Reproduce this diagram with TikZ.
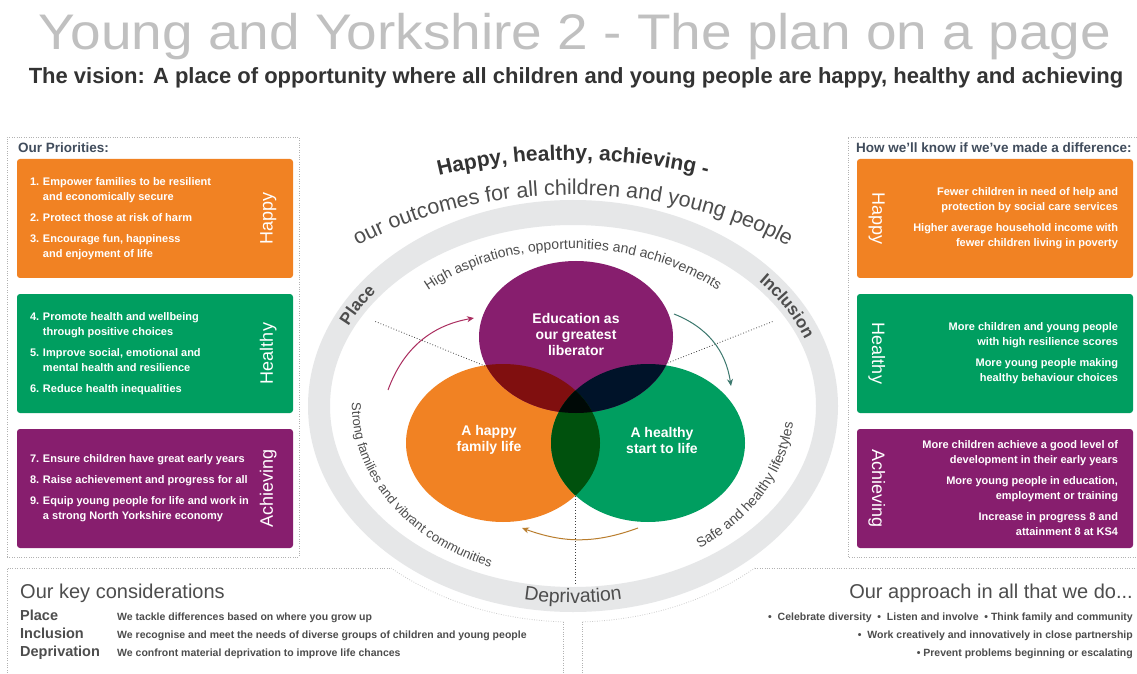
\documentclass[tikz,border=0pt]{standalone}
\usepackage{fontspec}
\setmainfont{Liberation Sans}
\newfontfamily\titlefont[FakeStretch=1.1]{Liberation Sans}
\usepackage{tikz}
\usetikzlibrary{arrows, arrows.meta, positioning, shapes, calc, decorations.text}

\definecolor{happyorange}{RGB}{241,130,35}
\definecolor{healthygreen}{RGB}{0,158,96}
\definecolor{achievepurple}{RGB}{135,30,110}
\definecolor{ringgray}{RGB}{230,231,232}
\definecolor{titlegray}{RGB}{192,192,192}
\definecolor{darktext}{RGB}{51,51,51}
\definecolor{slatetext}{RGB}{64,76,92}
\definecolor{midtext}{RGB}{77,77,77}
\definecolor{opmix}{RGB}{128,15,15}
\definecolor{pgmix}{RGB}{0,19,41}
\definecolor{ogmix}{RGB}{0,81,13}
\definecolor{allmix}{RGB}{0,9,6}
\definecolor{arrowleft}{RGB}{170,45,95}
\definecolor{arrowright}{RGB}{60,120,110}
\definecolor{arrowbottom}{RGB}{185,125,45}

\newcommand{\boxfont}{\fontsize{11}{15}\selectfont\bfseries}
\newcommand{\labelfont}{\fontsize{18}{18}\selectfont}
\newcommand{\headfont}{\fontsize{13.5}{16}\selectfont\bfseries}
\newcommand{\vennfont}{\fontsize{14}{16}\selectfont\bfseries}
\newcommand{\topfont}{\fontsize{21}{21}\selectfont\bfseries}
\newcommand{\arcfont}{\fontsize{21.5}{21.5}\selectfont}
\newcommand{\bandfont}{\fontsize{17}{17}\selectfont\bfseries}
\newcommand{\depfont}{\fontsize{19.5}{19.5}\selectfont}
\newcommand{\innerfont}{\fontsize{14}{14}\selectfont}
\newcommand{\strongfont}{\fontsize{13}{13}\selectfont}
\newcommand{\keyheadfont}{\fontsize{20}{20}\selectfont}
\newcommand{\keylabelfont}{\fontsize{14.5}{14.5}\selectfont\bfseries}
\newcommand{\keytextfont}{\fontsize{10.5}{10.5}\selectfont\bfseries}
\newcommand{\itm}[1]{\makebox[13pt][l]{#1}}

\tikzstyle{panel} = [gray!60, line width=0.8pt, dash pattern=on 0.8pt off 1.6pt]
\tikzstyle{ringline} = [gray!40, line width=0.8pt, dash pattern=on 0.8pt off 1.6pt]
\tikzstyle{pointer} = [black!75, line width=0.8pt, dash pattern=on 0.8pt off 2pt]
\tikzstyle{box} = [rectangle, rounded corners=3pt, minimum width=276pt, minimum height=119pt, inner sep=0pt]
\tikzstyle{boxtext} = [text=white, font=\boxfont, inner sep=0pt]
\tikzstyle{boxlabel} = [text=white, font=\labelfont, inner sep=0pt]
\tikzstyle{venntext} = [text=white, font=\vennfont, align=center, inner sep=0pt]
\tikzstyle{arrow} = [-{Stealth[length=7pt, width=6pt]}, line width=1pt]
\tikzstyle{keytext} = [text=midtext, font=\keytextfont, inner sep=0pt]

\begin{document}
\begin{tikzpicture}[x=1pt, y=1pt]
    \useasboundingbox (0,0) rectangle (1137,673);
    \fill[white] (0,0) rectangle (1137,673);

    % The heading
    \node[font=\titlefont\fontsize{50}{50}\selectfont, text=titlegray, anchor=base, inner sep=0pt] (title) at (575,623)
        {Young and Yorkshire 2 - The plan on a page};
    \node[font=\fontsize{22}{22}\selectfont\bfseries, text=darktext, anchor=base, inner sep=0pt] (vision) at (576,589)
        {The vision: A place of opportunity where all children and young people are happy, healthy and achieving};

    % The panels
    \draw[panel] (7,116) rectangle (299,536);
    \draw[panel] (1137,536) -- (848,536) -- (848,116) -- (1137,116);
    \draw[panel] (7,0) -- (7,105) -- (391.1,105);
    \draw[ringline] (391.1,105) arc [start angle=228.6, end angle=268, x radius=275pt, y radius=216pt];
    \draw[panel] (563.4,51.1) -- (563.4,0);
    \draw[panel] (582.6,0) -- (582.6,51.1);
    \draw[ringline] (582.6,51.1) arc [start angle=272, end angle=311.4, x radius=275pt, y radius=216pt];
    \draw[panel] (754.9,105) -- (1137,105);

    \node[font=\headfont, text=slatetext, anchor=base west, inner sep=0pt] (priorities) at (18,520) {Our Priorities:};
    \node[font=\headfont, text=slatetext, anchor=base west, inner sep=0pt] (difference) at (856,520) {How we'll know if we've made a difference:};

    % The priority boxes
    \node[box, fill=happyorange] (lhappy) at (155,454.5) {};
    \node[box, fill=healthygreen] (lhealthy) at (155,319.5) {};
    \node[box, fill=achievepurple] (lachieve) at (155,184.5) {};
    \node[boxlabel, rotate=90] (lhappylbl) at ([xshift=-25pt]lhappy.east) {Happy};
    \node[boxlabel, rotate=90] (lhealthylbl) at ([xshift=-25pt]lhealthy.east) {Healthy};
    \node[boxlabel, rotate=90] (lachievelbl) at ([xshift=-25pt]lachieve.east) {Achieving};
    \node[boxtext, anchor=west, align=left] (lhappytxt) at ([xshift=13pt]lhappy.west)
        {\itm{1.}Empower families to be resilient\\
         \hspace*{13pt}and economically secure\\[6pt]
         \itm{2.}Protect those at risk of harm\\[6pt]
         \itm{3.}Encourage fun, happiness\\
         \hspace*{13pt}and enjoyment of life};
    \node[boxtext, anchor=west, align=left] (lhealthytxt) at ([xshift=13pt]lhealthy.west)
        {\itm{4.}Promote health and wellbeing\\
         \hspace*{13pt}through positive choices\\[6pt]
         \itm{5.}Improve social, emotional and\\
         \hspace*{13pt}mental health and resilience\\[6pt]
         \itm{6.}Reduce health inequalities};
    \node[boxtext, anchor=west, align=left] (lachievetxt) at ([xshift=13pt]lachieve.west)
        {\itm{7.}Ensure children have great early years\\[6pt]
         \itm{8.}Raise achievement and progress for all\\[6pt]
         \itm{9.}Equip young people for life and work in\\
         \hspace*{13pt}a strong North Yorkshire economy};

    % The measure boxes
    \node[box, fill=happyorange] (rhappy) at (995,454.5) {};
    \node[box, fill=healthygreen] (rhealthy) at (995,319.5) {};
    \node[box, fill=achievepurple] (rachieve) at (995,184.5) {};
    \node[boxlabel, rotate=-90] (rhappylbl) at ([xshift=20pt]rhappy.west) {Happy};
    \node[boxlabel, rotate=-90] (rhealthylbl) at ([xshift=20pt]rhealthy.west) {Healthy};
    \node[boxlabel, rotate=-90] (rachievelbl) at ([xshift=20pt]rachieve.west) {Achieving};
    \node[boxtext, anchor=east, align=right] (rhappytxt) at ([xshift=-15pt]rhappy.east)
        {Fewer children in need of help and\\
         protection by social care services\\[6pt]
         Higher average household income with\\
         fewer children living in poverty};
    \node[boxtext, anchor=east, align=right] (rhealthytxt) at ([xshift=-15pt]rhealthy.east)
        {More children and young people\\
         with high resilience scores\\[6pt]
         More young people making\\
         healthy behaviour choices};
    \node[boxtext, anchor=east, align=right] (rachievetxt) at ([xshift=-15pt]rachieve.east)
        {More children achieve a good level of\\
         development in their early years\\[6pt]
         More young people in education,\\
         employment or training\\[6pt]
         Increase in progress 8 and\\
         attainment 8 at KS4};

    % The ring
    \coordinate (ctr) at (573,267);
    \fill[ringgray, even odd rule] (ctr) ellipse [x radius=265pt, y radius=206pt]
        (ctr) ellipse [x radius=243pt, y radius=181pt];
    \path[decorate, decoration={text along path, text align=center, text color=darktext,
        text={|\topfont|Happy, healthy, achieving -}}]
        ([shift={(130:380pt and 246pt)}]ctr) arc [start angle=130, end angle=50, x radius=380pt, y radius=246pt];
    \path[decorate, decoration={text along path, text align=center, text color=midtext,
        text={|\arcfont|our outcomes for all children and young people}}]
        ([shift={(150:330pt and 211pt)}]ctr) arc [start angle=150, end angle=30, x radius=330pt, y radius=211pt];
    \path[decorate, decoration={text along path, text align=center, text color=midtext,
        text={|\bandfont|Place}}]
        ([shift={(175:248pt and 188pt)}]ctr) arc [start angle=175, end angle=125, x radius=248pt, y radius=188pt];
    \path[decorate, decoration={text along path, text align=center, text color=midtext,
        text={|\bandfont|Inclusion}}]
        ([shift={(55:248pt and 188pt)}]ctr) arc [start angle=55, end angle=5, x radius=248pt, y radius=188pt];
    \path[decorate, decoration={text along path, text align=center, text color=midtext,
        text={|\depfont|Deprivation}}]
        ([shift={(245:259pt and 197pt)}]ctr) arc [start angle=245, end angle=295, x radius=259pt, y radius=197pt];
    \path[decorate, decoration={text along path, text align=center, text color=midtext,
        text={|\innerfont|High aspirations, opportunities and achievements}}]
        ([shift={(160:213pt and 157pt)}]ctr) arc [start angle=160, end angle=20, x radius=213pt, y radius=157pt];
    \path[decorate, decoration={text along path, text color=midtext,
        text={|\strongfont|Strong families and vibrant communities}}]
        ([shift={(179:221pt and 174pt)}]ctr) arc [start angle=179, end angle=275, x radius=221pt, y radius=174pt];
    \path[decorate, decoration={text along path, text color=midtext,
        text={|\innerfont|Safe and healthy lifestyles}}]
        ([shift={(-55:221pt and 174pt)}]ctr) arc [start angle=-55, end angle=10, x radius=221pt, y radius=174pt];

    % The circles
    \coordinate (ohap) at (503,230);
    \coordinate (ohlt) at (648,230);
    \coordinate (oedu) at (576,336);
    \fill[happyorange] (ohap) ellipse [x radius=97pt, y radius=79pt];
    \fill[healthygreen] (ohlt) ellipse [x radius=97pt, y radius=79pt];
    \fill[achievepurple] (oedu) ellipse [x radius=97pt, y radius=76pt];
    \begin{scope}
        \clip (oedu) ellipse [x radius=97pt, y radius=76pt];
        \fill[opmix] (ohap) ellipse [x radius=97pt, y radius=79pt];
        \fill[pgmix] (ohlt) ellipse [x radius=97pt, y radius=79pt];
    \end{scope}
    \begin{scope}
        \clip (ohap) ellipse [x radius=97pt, y radius=79pt];
        \fill[ogmix] (ohlt) ellipse [x radius=97pt, y radius=79pt];
        \clip (ohlt) ellipse [x radius=97pt, y radius=79pt];
        \fill[allmix] (oedu) ellipse [x radius=97pt, y radius=76pt];
    \end{scope}
    \node[venntext] (edu) at (576,339) {Education as\\our greatest\\liberator};
    \node[venntext] (happylife) at (489,233) {A happy\\family life};
    \node[venntext] (healthystart) at (662,233) {A healthy\\start to life};

    % The pointers
    \coordinate (placeend) at (374,352);
    \coordinate (placestart) at (485,307);
    \coordinate (inclend) at (774,352);
    \coordinate (inclstart) at (665,309);
    \coordinate (depstart) at (575,177);
    \coordinate (depend) at (575,88);
    \draw[pointer] (placestart) -- (placeend);
    \draw[pointer] (inclstart) -- (inclend);
    \draw[pointer] (depstart) -- (depend);

    % The cycle arrows
    \coordinate (aL1) at (388,283);
    \coordinate (aL2) at (474,355);
    \coordinate (aR1) at (674,359);
    \coordinate (aR2) at (731,287);
    \coordinate (aB1) at (638,145);
    \coordinate (aB2) at (522,145);
    \draw[arrow, arrowleft] (aL1) to [bend left=30] (aL2);
    \draw[arrow, arrowright] (aR1) to [bend left=30] (aR2);
    \draw[arrow, arrowbottom] (aB1) to [bend left=20] (aB2);

    % Key considerations
    \node[font=\keyheadfont, text=midtext, anchor=base west, inner sep=0pt] (keyhead) at (20,75) {Our key considerations};
    \node[font=\keylabelfont, text=midtext, anchor=base west, inner sep=0pt] (kplace) at (20,53) {Place};
    \node[font=\keylabelfont, text=midtext, anchor=base west, inner sep=0pt] (kincl) at (20,35) {Inclusion};
    \node[font=\keylabelfont, text=midtext, anchor=base west, inner sep=0pt] (kdep) at (20,17) {Deprivation};
    \node[keytext, anchor=base west] (kplacetxt) at (117,53) {We tackle differences based on where you grow up};
    \node[keytext, anchor=base west] (kincltxt) at (117,35) {We recognise and meet the needs of diverse groups of children and young people};
    \node[keytext, anchor=base west] (kdeptxt) at (117,17) {We confront material deprivation to improve life chances};

    % Approach
    \node[font=\keyheadfont, text=midtext, anchor=base east, inner sep=0pt] (apphead) at (1133,75) {Our approach in all that we do...};
    \node[keytext, anchor=base east] (app1) at (1133,53)
        {\textbullet~~Celebrate diversity~~\textbullet~~Listen and involve~~\textbullet~Think family and community};
    \node[keytext, anchor=base east] (app2) at (1133,35) {\textbullet~~Work creatively and innovatively in close partnership};
    \node[keytext, anchor=base east] (app3) at (1133,17) {\textbullet~Prevent problems beginning or escalating};
\end{tikzpicture}
\end{document}
